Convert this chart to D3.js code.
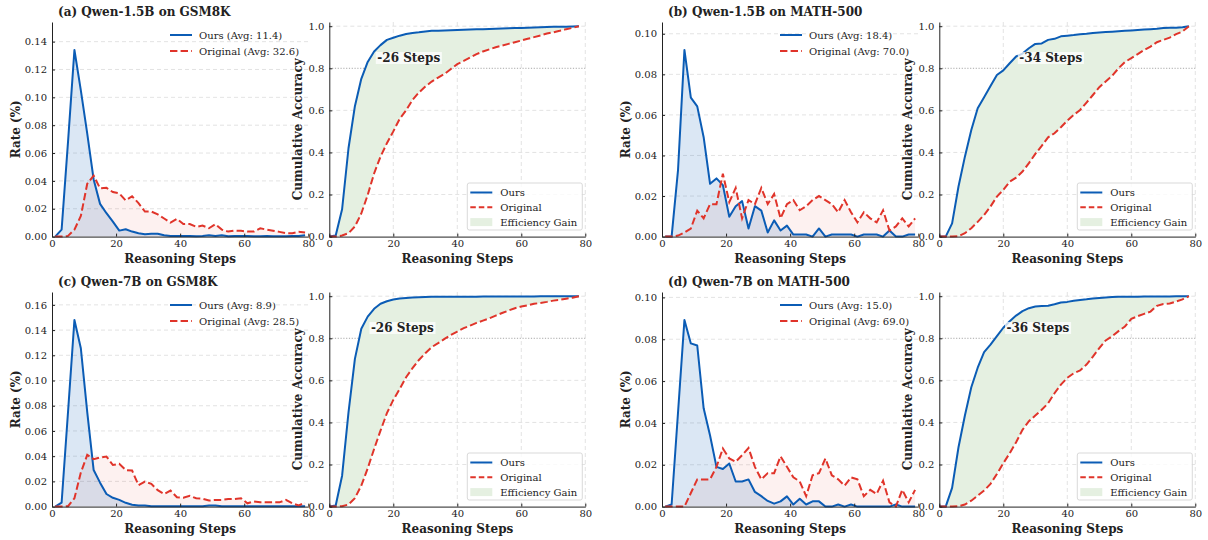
<!DOCTYPE html>
<html>
<head>
<meta charset="utf-8">
<style>
  body{ margin:0; background:#fff; }
  svg text{ font-family:"DejaVu Serif", serif; fill:#222; }
  .axis-title{ font-size:12px; font-weight:bold; }
  .panel-title{ font-size:12px; font-weight:bold; }
  .legend-text{ font-size:10px; }
  .gain-label{ font-size:12px; font-weight:bold; }
</style>
<script src="https://d3js.org/d3.v7.min.js"></script>
</head>
<body>
<div class="chart"></div>
<script>
// x values: rate curves are binned every 2 steps, cumulative curves sampled every 2 steps
const rateSteps = d3.range(1, 80, 2);
const cumSteps = d3.range(0, 80, 2);

const panelTitles = ['(a) Qwen-1.5B on GSM8K', '(b) Qwen-1.5B on MATH-500',
                     '(c) Qwen-7B on GSM8K', '(d) Qwen-7B on MATH-500'];
const avgOurs = [11.4, 18.4, 8.9, 15.0];
const avgOrig = [32.6, 70.0, 28.5, 69.0];
const gainLabels = ['-26 Steps', '-34 Steps', '-26 Steps', '-36 Steps'];
const gainLabelStep = [15, 25, 13, 21]; // step where the label starts

// rate per step bin
const rateOursA = [0, 0.005, 0.068, 0.134, 0.105, 0.074, 0.041, 0.0235, 0.0168, 0.0108,
  0.0043, 0.0053, 0.0036, 0.0024, 0.0017, 0.002, 0.002, 0.001, 0.0005, 0.0005,
  0.0005, 0.0005, 0.0003, 0.0005, 0.001, 0.0005, 0.001, 0.0003, 0.0005, 0.0005,
  0.0005, 0.0003, 0.0003, 0.0005, 0.0003, 0.0003, 0.0003, 0.0005, 0.0005, 0.001];
const rateOrigA = [0, 0, 0.0005, 0.005, 0.0148, 0.038, 0.0438, 0.0347, 0.035, 0.032,
  0.031, 0.026, 0.029, 0.024, 0.018, 0.018, 0.016, 0.013, 0.010, 0.0127,
  0.009, 0.009, 0.007, 0.0079, 0.006, 0.0089, 0.005, 0.0036, 0.0043, 0.0042,
  0.0036, 0.0036, 0.006, 0.005, 0.0042, 0.0034, 0.0024, 0.0024, 0.0034, 0.003];
const rateOursB = [0, 0, 0.0328, 0.092, 0.0685, 0.0642, 0.049, 0.026, 0.0287, 0.0254,
  0.0098, 0.015, 0.0175, 0.004, 0.015, 0.0128, 0.002, 0.008, 0.003, 0.0054,
  0.001, 0.001, 0.001, 0, 0.004, 0, 0.001, 0.001, 0.001, 0.001,
  0, 0.001, 0.001, 0.001, 0, 0.003, 0, 0, 0.001, 0.001];
const rateOrigB = [0, 0, 0.0005, 0.002, 0.004, 0.0128, 0.009, 0.016, 0.016, 0.031,
  0.017, 0.024, 0.009, 0.018, 0.016, 0.024, 0.016, 0.021, 0.009, 0.016,
  0.018, 0.013, 0.015, 0.018, 0.020, 0.018, 0.016, 0.012, 0.018, 0.012,
  0.007, 0.012, 0.009, 0.007, 0.013, 0.003, 0.005, 0.009, 0.005, 0.009];
const rateOursC = [0, 0.0032, 0.075, 0.148, 0.1256, 0.075, 0.029, 0.019, 0.010, 0.007,
  0.0053, 0.003, 0.0015, 0.0008, 0.0008, 0.0003, 0.0003, 0.0002, 0.0002, 0.0002,
  0.0002, 0.0002, 0.0002, 0.0003, 0.0008, 0.0008, 0.0003, 0.0002, 0.0002, 0.0002,
  0.0002, 0.0002, 0.0002, 0.0002, 0.0002, 0.0002, 0.0002, 0.0002, 0.0002, 0.0002];
const rateOrigC = [0, 0, 0.0003, 0.0066, 0.027, 0.041, 0.0376, 0.039, 0.0397, 0.033,
  0.034, 0.029, 0.0286, 0.017, 0.0198, 0.018, 0.013, 0.010, 0.0127, 0.0074,
  0.007, 0.0085, 0.0066, 0.0063, 0.0048, 0.0053, 0.0053, 0.006, 0.006, 0.0066,
  0.0026, 0.004, 0.0034, 0.0034, 0.0034, 0.0034, 0.0053, 0.0026, 0.001, 0.003];
const rateOursD = [0, 0.001, 0.045, 0.0892, 0.078, 0.077, 0.047, 0.034, 0.019, 0.018,
  0.0206, 0.012, 0.012, 0.013, 0.007, 0.005, 0.0027, 0.0014, 0.0025, 0.0049,
  0.001, 0.0037, 0.001, 0.0025, 0.0025, 0, 0, 0.001, 0, 0.001,
  0, 0, 0, 0, 0, 0, 0.001, 0, 0, 0];
const rateOrigD = [0, 0, 0, 0, 0.0065, 0.013, 0.013, 0.013, 0.019, 0.0278,
  0.023, 0.0214, 0.0246, 0.028, 0.019, 0.013, 0.016, 0.016, 0.024, 0.019,
  0.014, 0.012, 0.005, 0.015, 0.016, 0.023, 0.015, 0.013, 0.010, 0.014,
  0.013, 0.005, 0.008, 0.006, 0.0124, 0.002, 0, 0.008, 0.002, 0.008];

// cumulative accuracy
const cumOursA = [0, 0.005, 0.13, 0.42, 0.62, 0.75, 0.83, 0.88, 0.91, 0.935,
  0.945, 0.955, 0.963, 0.968, 0.971, 0.975, 0.978, 0.979, 0.98, 0.981,
  0.982, 0.983, 0.984, 0.985, 0.986, 0.987, 0.988, 0.989, 0.99, 0.991,
  0.992, 0.993, 0.994, 0.995, 0.996, 0.997, 0.998, 0.998, 0.999, 1.0];
const cumOrigA = [0, 0, 0.005, 0.016, 0.048, 0.11, 0.198, 0.30, 0.38, 0.444,
  0.50, 0.56, 0.60, 0.65, 0.685, 0.713, 0.737, 0.756, 0.773, 0.797,
  0.82, 0.835, 0.851, 0.867, 0.88, 0.89, 0.90, 0.908, 0.916, 0.924,
  0.932, 0.94, 0.948, 0.956, 0.965, 0.971, 0.978, 0.986, 0.992, 1.0];
const cumOursB = [0, 0, 0.063, 0.238, 0.38, 0.507, 0.61, 0.662, 0.716, 0.768,
  0.79, 0.824, 0.856, 0.87, 0.895, 0.916, 0.918, 0.935, 0.94, 0.952,
  0.955, 0.958, 0.962, 0.964, 0.968, 0.97, 0.972, 0.974, 0.976, 0.978,
  0.98, 0.982, 0.984, 0.986, 0.988, 0.992, 0.993, 0.993, 0.995, 1.0];
const cumOrigB = [0, 0, 0, 0.002, 0.016, 0.04, 0.07, 0.103, 0.143, 0.19,
  0.222, 0.261, 0.28, 0.309, 0.349, 0.393, 0.431, 0.472, 0.491, 0.52,
  0.551, 0.578, 0.602, 0.637, 0.673, 0.71, 0.737, 0.764, 0.80, 0.83,
  0.848, 0.867, 0.887, 0.903, 0.924, 0.935, 0.946, 0.962, 0.975, 1.0];
const cumOursC = [0, 0.005, 0.147, 0.448, 0.702, 0.845, 0.903, 0.94, 0.964, 0.976,
  0.984, 0.989, 0.992, 0.994, 0.995, 0.996, 0.997, 0.997, 0.997, 0.998,
  0.998, 0.998, 0.998, 0.998, 0.999, 0.999, 0.999, 0.999, 0.999, 0.999,
  0.999, 0.999, 0.999, 1.0, 1.0, 1.0, 1.0, 1.0, 1.0, 1.0];
const cumOrigC = [0, 0, 0.002, 0.01, 0.04, 0.10, 0.182, 0.274, 0.361, 0.444,
  0.507, 0.559, 0.615, 0.658, 0.697, 0.729, 0.758, 0.777, 0.797, 0.816,
  0.832, 0.848, 0.86, 0.873, 0.884, 0.895, 0.908, 0.92, 0.932, 0.943,
  0.951, 0.957, 0.964, 0.968, 0.973, 0.979, 0.983, 0.988, 0.993, 1.0];
const cumOursD = [0, 0, 0.089, 0.282, 0.433, 0.567, 0.66, 0.734, 0.77, 0.81,
  0.85, 0.881, 0.908, 0.929, 0.943, 0.951, 0.953, 0.955, 0.962, 0.97,
  0.973, 0.978, 0.982, 0.985, 0.989, 0.992, 0.994, 0.996, 0.997, 0.998,
  0.998, 0.998, 0.999, 0.999, 0.999, 0.999, 0.999, 1.0, 1.0, 1.0];
const cumOrigD = [0, 0, 0, 0.002, 0.01, 0.028, 0.052, 0.076, 0.108, 0.155,
  0.206, 0.254, 0.306, 0.365, 0.406, 0.433, 0.46, 0.491, 0.539, 0.58,
  0.612, 0.634, 0.647, 0.675, 0.713, 0.753, 0.79, 0.81, 0.834, 0.856,
  0.892, 0.905, 0.916, 0.927, 0.954, 0.963, 0.965, 0.975, 0.985, 1.0];

const panels = [
  {ours: rateOursA, orig: rateOrigA, cumOurs: cumOursA, cumOrig: cumOrigA},
  {ours: rateOursB, orig: rateOrigB, cumOurs: cumOursB, cumOrig: cumOrigB},
  {ours: rateOursC, orig: rateOrigC, cumOurs: cumOursC, cumOrig: cumOrigC},
  {ours: rateOursD, orig: rateOrigD, cumOurs: cumOursD, cumOrig: cumOrigD}
].map((p, i) => Object.assign(p, {
  title: panelTitles[i], avgOurs: avgOurs[i], avgOrig: avgOrig[i],
  gain: gainLabels[i], gainStep: gainLabelStep[i]
}));

const width = 1208, height = 540;
const colLeft = [52, 662];
const rowTop = [22, 292];
const axW = 256.3, axH = 214.6, cumOffset = 277.3;

const BLUE = '#0b5cb5', RED = '#e0342a', GREEN_FILL = '#e5f0e1';
const GRID = '#dcdcdc';
const dash = '7.4,3.2';

const svg = d3.select('.chart').append('svg')
  .attr('width', width).attr('height', height);

function styleAxis(g){
  g.attr('font-family', '"DejaVu Serif", serif').attr('font-size', 10).attr('color', '#222');
  g.selectAll('.domain').attr('stroke-width', 1);
}

function drawRate(g, p){
  const x = d3.scaleLinear().domain([0, 80]).range([0, axW]);
  const y = d3.scaleLinear().domain([0, d3.max(p.ours) * 1.15]).range([axH, 0]);
  const yTicks = d3.range(0, y.domain()[1] + 1e-9, 0.02);

  g.selectAll('.hgrid').data(yTicks.filter(t => t > 0)).join('line')
    .attr('x1', 0).attr('x2', axW).attr('y1', y).attr('y2', y)
    .attr('stroke', GRID).attr('stroke-dasharray', '4,3').attr('stroke-width', 0.8);

  const area = vals => d3.area().x((d, i) => x(rateSteps[i])).y0(y(0)).y1(d => y(d))(vals);
  const line = vals => d3.line().x((d, i) => x(rateSteps[i])).y(d => y(d))(vals);

  g.append('path').attr('d', area(p.orig)).attr('fill', RED).attr('fill-opacity', 0.07);
  g.append('path').attr('d', area(p.ours)).attr('fill', BLUE).attr('fill-opacity', 0.15);
  g.append('path').attr('d', line(p.ours)).attr('fill', 'none').attr('stroke', BLUE)
    .attr('stroke-width', 2).attr('stroke-linejoin', 'round');
  g.append('path').attr('d', line(p.orig)).attr('fill', 'none').attr('stroke', RED)
    .attr('stroke-width', 2).attr('stroke-dasharray', dash);

  g.append('g').attr('transform', `translate(0,${axH})`)
    .call(d3.axisBottom(x).tickValues([0, 20, 40, 60, 80]).tickSize(-3).tickSizeOuter(0).tickPadding(3.5))
    .call(styleAxis);
  g.append('g')
    .call(d3.axisLeft(y).tickValues(yTicks).tickFormat(d3.format('.2f')).tickSize(-3).tickSizeOuter(0).tickPadding(5))
    .call(styleAxis);

  // legend (no frame)
  const leg = g.append('g').attr('transform', 'translate(118,13)');
  [[`Ours (Avg: ${p.avgOurs.toFixed(1)})`, BLUE, null],
   [`Original (Avg: ${p.avgOrig.toFixed(1)})`, RED, dash]].forEach(([label, c, da], i) => {
    const row = leg.append('g').attr('transform', `translate(0,${i * 16})`);
    row.append('line').attr('x1', 0).attr('x2', 22).attr('stroke', c).attr('stroke-width', 2)
      .attr('stroke-dasharray', da);
    row.append('text').attr('class', 'legend-text').attr('x', 29).attr('dy', '0.35em').text(label);
  });

  g.append('text').attr('class', 'axis-title').attr('x', axW / 2).attr('y', axH + 26)
    .attr('text-anchor', 'middle').text('Reasoning Steps');
  g.append('text').attr('class', 'axis-title')
    .attr('transform', `translate(-32,${axH / 2}) rotate(-90)`)
    .attr('text-anchor', 'middle').text('Rate (%)');
  g.append('text').attr('class', 'panel-title').attr('x', 6).attr('y', -6).text(p.title);
}

function drawCum(g, p){
  const x = d3.scaleLinear().domain([0, 80]).range([0, axW - 0.3]);
  const y = d3.scaleLinear().domain([0, 1.02]).range([axH, 0]);
  const yTicks = [0, 0.2, 0.4, 0.6, 0.8, 1.0];
  const xTicks = [0, 20, 40, 60, 80];

  g.selectAll('.hgrid').data(yTicks.filter(t => t > 0 && t !== 0.8)).join('line')
    .attr('x1', 0).attr('x2', x(80)).attr('y1', y).attr('y2', y)
    .attr('stroke', GRID).attr('stroke-dasharray', '4,3').attr('stroke-width', 0.8);
  g.selectAll('.vgrid').data(xTicks.filter(t => t > 0)).join('line')
    .attr('y1', 0).attr('y2', axH).attr('x1', x).attr('x2', x)
    .attr('stroke', GRID).attr('stroke-dasharray', '4,3').attr('stroke-width', 0.8);
  g.append('line').attr('x1', 0).attr('x2', x(80)).attr('y1', y(0.8)).attr('y2', y(0.8))
    .attr('stroke', '#a8a8a8').attr('stroke-dasharray', '1.2,1.6').attr('stroke-width', 1);

  const gain = d3.area().x((d, i) => x(cumSteps[i])).y0((d, i) => y(p.cumOrig[i])).y1(d => y(d));
  g.append('path').attr('d', gain(p.cumOurs)).attr('fill', GREEN_FILL);

  const line = vals => d3.line().x((d, i) => x(cumSteps[i])).y(d => y(d))(vals);
  g.append('path').attr('d', line(p.cumOurs)).attr('fill', 'none').attr('stroke', BLUE)
    .attr('stroke-width', 2).attr('stroke-linejoin', 'round');
  g.append('path').attr('d', line(p.cumOrig)).attr('fill', 'none').attr('stroke', RED)
    .attr('stroke-width', 2).attr('stroke-dasharray', dash);

  g.append('g').attr('transform', `translate(0,${axH})`)
    .call(d3.axisBottom(x).tickValues(xTicks).tickSize(-3).tickSizeOuter(0).tickPadding(3.5))
    .call(styleAxis);
  g.append('g')
    .call(d3.axisLeft(y).tickValues(yTicks).tickFormat(d3.format('.1f')).tickSize(-3).tickSizeOuter(0).tickPadding(5))
    .call(styleAxis);

  // gain annotation with soft white box
  const lab = g.append('g');
  const t = lab.append('text').attr('class', 'gain-label')
    .attr('x', x(p.gainStep)).attr('y', y(0.85)).attr('dy', '0.35em').text(p.gain);
  const bb = t.node().getBBox();
  lab.insert('rect', 'text').attr('x', bb.x - 1.5).attr('y', bb.y + 1).attr('width', bb.width + 3)
    .attr('height', bb.height - 2).attr('fill', '#fff').attr('fill-opacity', 0.75);

  // framed legend
  const leg = g.append('g').attr('transform', 'translate(138,161)');
  leg.append('rect').attr('width', 115).attr('height', 47).attr('rx', 2)
    .attr('fill', '#fff').attr('fill-opacity', 0.8).attr('stroke', '#cfcfcf').attr('stroke-width', 0.8);
  [['Ours', 'line', BLUE, null], ['Original', 'line', RED, '5.5,3'], ['Efficiency Gain', 'patch', GREEN_FILL, null]]
    .forEach(([label, kind, c, da], i) => {
      const row = leg.append('g').attr('transform', `translate(3,${9.5 + i * 14.8})`);
      if (kind === 'line') {
        row.append('line').attr('x1', 0).attr('x2', 22).attr('stroke', c).attr('stroke-width', 2)
          .attr('stroke-dasharray', da);
      } else {
        row.append('rect').attr('x', 0).attr('y', -4).attr('width', 22).attr('height', 8).attr('fill', c);
      }
      row.append('text').attr('class', 'legend-text').attr('x', 30).attr('dy', '0.35em').text(label);
    });

  g.append('text').attr('class', 'axis-title').attr('x', axW / 2).attr('y', axH + 26)
    .attr('text-anchor', 'middle').text('Reasoning Steps');
  g.append('text').attr('class', 'axis-title')
    .attr('transform', `translate(-27,${axH / 2}) rotate(-90)`)
    .attr('text-anchor', 'middle').text('Cumulative Accuracy');
}

panels.forEach((p, i) => {
  const left = colLeft[i % 2], top = rowTop[Math.floor(i / 2)];
  drawRate(svg.append('g').attr('transform', `translate(${left},${top})`), p);
  drawCum(svg.append('g').attr('transform', `translate(${left + cumOffset},${top})`), p);
});
</script>
</body>
</html>
